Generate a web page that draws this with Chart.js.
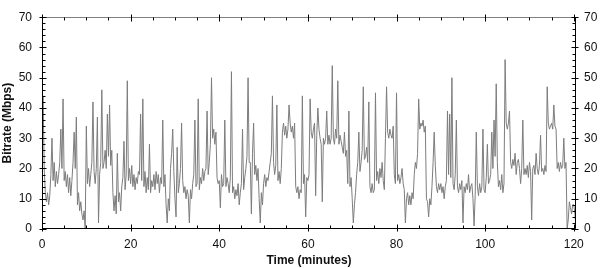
<!DOCTYPE html>
<html>
<head>
<meta charset="utf-8">
<script src="https://cdn.jsdelivr.net/npm/chart.js@4/dist/chart.umd.min.js"></script>
<style>
  html, body { margin: 0; padding: 0; background: #fff; }
  #wrap { width: 600px; height: 268px; position: relative; }
</style>
</head>
<body>
<div id="wrap"><canvas id="c" width="600" height="268"></canvas></div>
<script>
// Sampling step of the series (minutes between readings)
const sampleStepMinutes = 0.25;

// Bitrate (Mbps), four readings per minute (one row per minute)
const bitrate = [
  35, 44, 20, 12,   9, 12, 8, 11,   18, 30, 16, 22,   14, 19, 15, 18,   22, 33, 20, 43,
  16, 19, 14, 18,   12, 17, 11, 16,   22, 32, 20, 37,   8, 12, 6, 9,     5, 3, 6, 0,
  34, 15, 20, 14,   18, 22, 42, 19,   15, 20, 37, 2,    18, 22, 46, 20,  22, 26, 20, 38,
  24, 41, 21, 26,   12, 6, 11, 5,     25, 9, 12, 6,     14, 17, 29, 13,  18, 49, 16, 20,
  15, 21, 14, 18,   13, 17, 15, 19,   18, 38, 16, 43,   14, 19, 12, 17,  13, 28, 12, 16,
  14, 18, 13, 19,   15, 18, 12, 17,   15, 36, 14, 18,   8, 2, 10, 6,     20, 25, 33, 19,
  10, 4, 27, 12,    15, 20, 35, 16,   12, 14, 10, 13,   11, 2, 13, 10,   15, 18, 36, 14,
  15, 43, 13, 17,   15, 20, 16, 19,   20, 39, 18, 22,   28, 50, 30, 33,  28, 32, 17, 15,
  16, 7, 18, 14,    15, 36, 14, 17,   15, 12, 17, 52,   12, 14, 10, 13,  11, 15, 8, 12,
  15, 33, 13, 17,   20, 24, 50, 22,   22, 5, 25, 35,    18, 21, 16, 20,  10, 2, 12, 8,
  15, 18, 14, 17,   16, 19, 22, 25,   44, 22, 18, 21,   41, 16, 19, 15,  20, 32, 35, 31,
  34, 30, 33, 41,   35, 32, 34, 30,   35, 14, 12, 14,   10, 13, 12, 44,  15, 18, 4, 17,
  16, 18, 43, 32,   30, 33, 35, 11,   31, 40, 33, 30,   28, 9, 30, 28,   30, 39, 28, 31,
  28, 30, 54, 30,   28, 33, 30, 49,   28, 31, 29, 27,   25, 32, 24, 26,  15, 39, 14, 17,
  10, 2, 8, 12,     18, 22, 32, 19,   22, 26, 47, 23,   24, 27, 22, 42,  14, 12, 15, 12,
  13, 45, 16, 19,   15, 20, 17, 22,   16, 13, 30, 47,   32, 30, 33, 31,  30, 34, 18, 15,
  45, 16, 18, 15,   17, 20, 15, 13,   2, 10, 12, 8,     11, 8, 12, 10,   18, 22, 20, 25,
  43, 33, 35, 34,   36, 32, 34, 10,   9, 4, 10, 8,      14, 22, 32, 21,  14, 12, 15, 13,
  15, 12, 14, 10,   14, 16, 39, 18,   38, 17, 50, 15,   13, 18, 36, 14,  12, 15, 13, 16,
  2, 14, 12, 15,    13, 18, 12, 14,   15, 10, 1, 11,    32, 14, 11, 15,  12, 14, 33, 13,
  12, 17, 28, 15,   16, 18, 32, 20,   36, 24, 48, 22,   14, 16, 13, 18,  12, 15, 56, 35,
  33, 35, 39, 22,   20, 23, 21, 25,   18, 22, 23, 20,   15, 20, 36, 18,  20, 18, 21, 17,
  22, 19, 3, 20,    21, 18, 25, 20,   18, 21, 31, 19,   20, 18, 21, 19,  47, 35, 33, 34,
  35, 33, 41, 34,   33, 20, 22, 19,   22, 20, 21, 30,   20, 22, 0, 3,    9, 7, 5, 8,
  8, 5, 0
];

const minutes = bitrate.map((_, i) => i * sampleStepMinutes);

const xTickValues = [0, 20, 40, 60, 80, 100, 120];
const yTickValues = [0, 10, 20, 30, 40, 50, 60, 70];

const xAxisTitle = 'Time (minutes)';
const yAxisTitle = 'Bitrate (Mbps)';

const points = minutes.map((m, i) => ({ x: m, y: bitrate[i] }));

const FONT = "'Liberation Sans', Arial, sans-serif";

const tickPlugin = {
  id: 'axisTicks',
  afterDraw(chart) {
    const ctx = chart.ctx;
    const a = chart.chartArea;
    const xs = chart.scales.x, ys = chart.scales.y;
    const L = Math.round(a.left) + 0.5, R = Math.round(a.right) - 0.5;
    const T = Math.round(a.top) + 0.5, B = Math.round(a.bottom) - 0.5;
    ctx.save();
    ctx.lineWidth = 1;
    ctx.strokeStyle = '#808080';
    ctx.beginPath(); ctx.moveTo(L, T); ctx.lineTo(R, T); ctx.stroke();
    ctx.strokeStyle = '#000';
    ctx.beginPath(); ctx.moveTo(L, T); ctx.lineTo(L, B); ctx.lineTo(R, B); ctx.lineTo(R, T); ctx.stroke();
    ctx.beginPath();
    for (let v = 0; v <= 120; v += 5) {
      const px = Math.round(xs.getPixelForValue(v)) + 0.5;
      const major = v % 20 === 0;
      const inLen = major ? 4 : 3, outLen = major ? 3 : 0;
      ctx.moveTo(px, B + outLen); ctx.lineTo(px, B - inLen);
      ctx.moveTo(px, T - outLen); ctx.lineTo(px, T + inLen);
    }
    for (let v = 0; v <= 70; v += 2) {
      const py = Math.round(ys.getPixelForValue(v)) + 0.5;
      const major = v % 10 === 0;
      const inLen = major ? 4 : 3, outLen = major ? 3 : 0;
      ctx.moveTo(L - outLen, py); ctx.lineTo(L + inLen, py);
      ctx.moveTo(R + outLen, py); ctx.lineTo(R - inLen, py);
    }
    ctx.stroke();
    ctx.restore();
  }
};

new Chart(document.getElementById('c'), {
  type: 'line',
  data: {
    datasets: [{
      data: points,
      borderColor: 'rgb(125,125,125)',
      borderWidth: 1,
      pointRadius: 0,
      tension: 0,
      fill: false
    }]
  },
  options: {
    responsive: false,
    animation: false,
    events: [],
    layout: { padding: { top: 10, left: 0, right: 0, bottom: 0 } },
    plugins: { legend: { display: false }, tooltip: { enabled: false } },
    scales: {
      x: {
        type: 'linear',
        min: 0, max: 120.5,
        afterBuildTicks: s => { s.ticks = xTickValues.map(v => ({ value: v })); },
        ticks: { padding: 8, color: '#111', font: { family: FONT, size: 12 }, maxRotation: 0, includeBounds: false },
        grid: { display: false, drawTicks: false },
        border: { display: false },
        title: { display: true, text: xAxisTitle, color: '#111', font: { family: FONT, size: 12, weight: 'bold' }, padding: { top: 2, bottom: 0 } },
        afterFit: s => { s.height = 39; }
      },
      y: {
        position: 'left',
        min: 0, max: 70,
        afterBuildTicks: s => { s.ticks = yTickValues.map(v => ({ value: v })); },
        ticks: { padding: 10, color: '#111', font: { family: FONT, size: 12 } },
        grid: { display: false, drawTicks: false },
        border: { display: false },
        title: { display: true, text: yAxisTitle, color: '#111', font: { family: FONT, size: 12, weight: 'bold' }, padding: { top: 0, bottom: 0 } },
        afterFit: s => { s.width = 42; }
      },
      y2: {
        position: 'right',
        min: 0, max: 70,
        afterBuildTicks: s => { s.ticks = yTickValues.map(v => ({ value: v })); },
        ticks: { padding: 8, color: '#111', font: { family: FONT, size: 12 } },
        grid: { display: false, drawTicks: false },
        border: { display: false },
        afterFit: s => { s.width = 24; }
      }
    }
  },
  plugins: [tickPlugin]
});
</script>
</body>
</html>
